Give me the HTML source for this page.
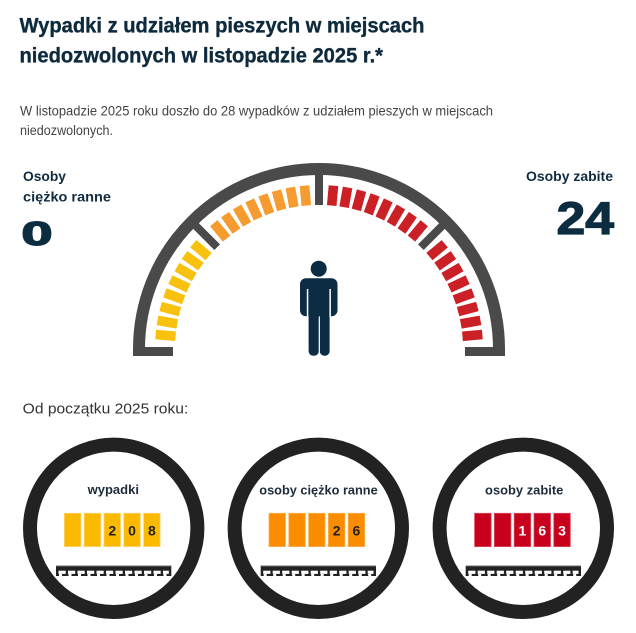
<!DOCTYPE html>
<html><head><meta charset="utf-8"><style>
html,body{margin:0;padding:0;background:#fff;}
svg{display:block;}
text{font-family:"Liberation Sans",sans-serif;}
</style></head><body>
<svg width="636" height="633" viewBox="0 0 636 633" xmlns="http://www.w3.org/2000/svg">
<rect width="636" height="633" fill="#fff"/>
<!-- Title -->
<text x="19.5" y="32.5" font-size="21" font-weight="bold" fill="#0e2a3d" stroke="#0e2a3d" stroke-width="0.35" textLength="405" lengthAdjust="spacingAndGlyphs">Wypadki z udziałem pieszych w miejscach</text>
<text x="19.5" y="62.5" font-size="21" font-weight="bold" fill="#0e2a3d" stroke="#0e2a3d" stroke-width="0.35" textLength="363.5" lengthAdjust="spacingAndGlyphs">niedozwolonych w listopadzie 2025 r.*</text>
<!-- Description -->
<text x="20" y="115.5" font-size="14" fill="#444" textLength="473" lengthAdjust="spacingAndGlyphs">W listopadzie 2025 roku doszło do 28 wypadków z udziałem pieszych w miejscach</text>
<text x="20" y="135" font-size="14" fill="#444" textLength="93" lengthAdjust="spacingAndGlyphs">niedozwolonych.</text>
<!-- Side labels -->
<text x="23" y="181" font-size="14" font-weight="bold" fill="#102b3f" textLength="43" lengthAdjust="spacingAndGlyphs">Osoby</text>
<text x="23" y="201.5" font-size="14" font-weight="bold" fill="#102b3f" textLength="88" lengthAdjust="spacingAndGlyphs">ciężko ranne</text>
<text x="21.5" y="245" font-size="33" font-weight="bold" fill="#0c2c40" stroke="#0c2c40" stroke-width="1.4" textLength="31" lengthAdjust="spacingAndGlyphs">0</text>
<text x="526" y="181" font-size="14" font-weight="bold" fill="#102b3f" textLength="87" lengthAdjust="spacingAndGlyphs">Osoby zabite</text>
<text x="556.5" y="234" font-size="45" font-weight="bold" fill="#0c2c40" stroke="#0c2c40" stroke-width="1.2" textLength="57.5" lengthAdjust="spacingAndGlyphs">24</text>

<!-- Gauge -->
<path d="M 139 349 A 180 180 0 0 1 499 349" fill="none" stroke="#4a4a4a" stroke-width="12"/>
<rect x="133" y="347" width="40" height="9" fill="#4a4a4a"/>
<rect x="465" y="347" width="40" height="9" fill="#4a4a4a"/>
<g transform="translate(319,349)">
  <g fill="#4a4a4a">
    <rect x="144" y="-4" width="32" height="8" transform="rotate(-45)"/>
    <rect x="144" y="-4" width="32" height="8" transform="rotate(-90)"/>
    <rect x="144" y="-4" width="32" height="8" transform="rotate(-135)"/>
  </g>
  <g fill="#f8c10d">
    <rect x="144" y="-4.8" width="20" height="9.6" transform="rotate(-174.925)"/>
    <rect x="144" y="-4.8" width="20" height="9.6" transform="rotate(-169.945)"/>
    <rect x="144" y="-4.8" width="20" height="9.6" transform="rotate(-164.965)"/>
    <rect x="144" y="-4.8" width="20" height="9.6" transform="rotate(-159.985)"/>
    <rect x="144" y="-4.8" width="20" height="9.6" transform="rotate(-155.005)"/>
    <rect x="144" y="-4.8" width="20" height="9.6" transform="rotate(-150.025)"/>
    <rect x="144" y="-4.8" width="20" height="9.6" transform="rotate(-145.045)"/>
    <rect x="144" y="-4.8" width="20" height="9.6" transform="rotate(-140.065)"/>
  </g>
  <g fill="#f59b2f">
    <rect x="144" y="-4.8" width="20" height="9.6" transform="rotate(-129.925)"/>
    <rect x="144" y="-4.8" width="20" height="9.6" transform="rotate(-124.945)"/>
    <rect x="144" y="-4.8" width="20" height="9.6" transform="rotate(-119.965)"/>
    <rect x="144" y="-4.8" width="20" height="9.6" transform="rotate(-114.985)"/>
    <rect x="144" y="-4.8" width="20" height="9.6" transform="rotate(-110.005)"/>
    <rect x="144" y="-4.8" width="20" height="9.6" transform="rotate(-105.025)"/>
    <rect x="144" y="-4.8" width="20" height="9.6" transform="rotate(-100.045)"/>
    <rect x="144" y="-4.8" width="20" height="9.6" transform="rotate(-95.065)"/>
  </g>
  <g fill="#cc2027">
    <rect x="144" y="-4.8" width="20" height="9.6" transform="rotate(-84.935)"/>
    <rect x="144" y="-4.8" width="20" height="9.6" transform="rotate(-79.955)"/>
    <rect x="144" y="-4.8" width="20" height="9.6" transform="rotate(-74.975)"/>
    <rect x="144" y="-4.8" width="20" height="9.6" transform="rotate(-69.995)"/>
    <rect x="144" y="-4.8" width="20" height="9.6" transform="rotate(-65.015)"/>
    <rect x="144" y="-4.8" width="20" height="9.6" transform="rotate(-60.035)"/>
    <rect x="144" y="-4.8" width="20" height="9.6" transform="rotate(-55.055)"/>
    <rect x="144" y="-4.8" width="20" height="9.6" transform="rotate(-50.075)"/>
    <rect x="144" y="-4.8" width="20" height="9.6" transform="rotate(-39.925)"/>
    <rect x="144" y="-4.8" width="20" height="9.6" transform="rotate(-34.945)"/>
    <rect x="144" y="-4.8" width="20" height="9.6" transform="rotate(-29.965)"/>
    <rect x="144" y="-4.8" width="20" height="9.6" transform="rotate(-24.985)"/>
    <rect x="144" y="-4.8" width="20" height="9.6" transform="rotate(-20.005)"/>
    <rect x="144" y="-4.8" width="20" height="9.6" transform="rotate(-15.025)"/>
    <rect x="144" y="-4.8" width="20" height="9.6" transform="rotate(-10.045)"/>
    <rect x="144" y="-4.8" width="20" height="9.6" transform="rotate(-5.065)"/>
  </g>
</g>
<!-- Person -->
<g fill="#0b2c42">
  <circle cx="318.7" cy="268.7" r="8"/>
  <rect x="300" y="278.3" width="37.5" height="38" rx="6"/>
  <rect x="308.6" y="300" width="10.2" height="55.7" rx="4.5"/>
  <rect x="319.8" y="300" width="9.8" height="55.7" rx="4.5"/>
</g>
<rect x="306.8" y="289" width="1.5" height="28" fill="#fff"/>
<rect x="329.4" y="289" width="1.5" height="28" fill="#fff"/>
<rect x="318.8" y="318" width="1" height="38" fill="#fff"/>

<!-- Od początku -->
<text x="22.7" y="413.3" font-size="14.5" fill="#333" textLength="165.6" lengthAdjust="spacingAndGlyphs">Od początku 2025 roku:</text>

<!-- Circle 1 -->
<circle cx="113.7" cy="528.3" r="83.7" fill="none" stroke="#222" stroke-width="14"/>
<text x="113.3" y="494" font-size="13" font-weight="bold" fill="#1e2b3a" text-anchor="middle">wypadki</text>
<g fill="#fbb900" stroke="#fdd36a" stroke-width="0.8">
  <rect x="64.4" y="513.3" width="16.5" height="33.3"/>
  <rect x="84.2" y="513.3" width="16.5" height="33.3"/>
  <rect x="104" y="513.3" width="16.5" height="33.3"/>
  <rect x="123.8" y="513.3" width="16.5" height="33.3"/>
  <rect x="143.6" y="513.3" width="16.5" height="33.3"/>
</g>
<g font-size="14" font-weight="bold" fill="#222" text-anchor="middle">
  <text x="112.25" y="535.5">2</text>
  <text x="132.05" y="535.5">0</text>
  <text x="151.85" y="535.5">8</text>
</g>

<!-- Circle 2 -->
<circle cx="318.3" cy="528.3" r="83.7" fill="none" stroke="#222" stroke-width="14"/>
<text x="318.5" y="494.3" font-size="13" font-weight="bold" fill="#1e2b3a" text-anchor="middle" textLength="118.4" lengthAdjust="spacingAndGlyphs">osoby ciężko ranne</text>
<g fill="#fa8c00" stroke="#fcb050" stroke-width="0.8">
  <rect x="269" y="513.3" width="16.5" height="33.3"/>
  <rect x="288.8" y="513.3" width="16.5" height="33.3"/>
  <rect x="308.6" y="513.3" width="16.5" height="33.3"/>
  <rect x="328.4" y="513.3" width="16.5" height="33.3"/>
  <rect x="348.2" y="513.3" width="16.5" height="33.3"/>
</g>
<g font-size="14" font-weight="bold" fill="#222" text-anchor="middle">
  <text x="336.65" y="535.5">2</text>
  <text x="356.45" y="535.5">6</text>
</g>

<!-- Circle 3 -->
<circle cx="523.3" cy="528.3" r="83.7" fill="none" stroke="#222" stroke-width="14"/>
<text x="524.2" y="494.3" font-size="13" font-weight="bold" fill="#1e2b3a" text-anchor="middle" textLength="78.3" lengthAdjust="spacingAndGlyphs">osoby zabite</text>
<g fill="#c8001e" stroke="#d84a5a" stroke-width="0.8">
  <rect x="474.6" y="513.3" width="16.5" height="33.3"/>
  <rect x="494.4" y="513.3" width="16.5" height="33.3"/>
  <rect x="514.2" y="513.3" width="16.5" height="33.3"/>
  <rect x="534" y="513.3" width="16.5" height="33.3"/>
  <rect x="553.8" y="513.3" width="16.5" height="33.3"/>
</g>
<g font-size="14" font-weight="bold" fill="#fff" text-anchor="middle">
  <text x="522.45" y="535.5">1</text>
  <text x="542.25" y="535.5">6</text>
  <text x="562.05" y="535.5">3</text>
</g>

<!-- Rulers -->
<defs>
  <g id="ruler">
    <rect x="0" y="0" width="115.3" height="10.3" fill="#222"/>
    <rect x="0" y="0" width="115.3" height="0.8" fill="#666"/>
    <g fill="#fff">
      <rect x="2.5" y="5" width="7.2" height="3.2"/>
      <rect x="12" y="5" width="7.2" height="3.2"/>
      <rect x="21.5" y="5" width="7.2" height="3.2"/>
      <rect x="31" y="5" width="7.2" height="3.2"/>
      <rect x="40.5" y="5" width="7.2" height="3.2"/>
      <rect x="50" y="5" width="7.2" height="3.2"/>
      <rect x="59.5" y="5" width="7.2" height="3.2"/>
      <rect x="69" y="5" width="7.2" height="3.2"/>
      <rect x="78.5" y="5" width="7.2" height="3.2"/>
      <rect x="88" y="5" width="7.2" height="3.2"/>
      <rect x="97.5" y="5" width="7.2" height="3.2"/>
      <rect x="107" y="5" width="5.8" height="3.2"/>
    </g>
    <g fill="#fff">
      <rect x="3" y="8.2" width="3" height="2.1"/>
      <rect x="12.5" y="8.2" width="3" height="2.1"/>
      <rect x="22" y="8.2" width="3" height="2.1"/>
      <rect x="31.5" y="8.2" width="3" height="2.1"/>
      <rect x="41" y="8.2" width="3" height="2.1"/>
      <rect x="50.5" y="8.2" width="3" height="2.1"/>
      <rect x="60" y="8.2" width="3" height="2.1"/>
      <rect x="69.5" y="8.2" width="3" height="2.1"/>
      <rect x="79" y="8.2" width="3" height="2.1"/>
      <rect x="88.5" y="8.2" width="3" height="2.1"/>
      <rect x="98" y="8.2" width="3" height="2.1"/>
      <rect x="107.5" y="8.2" width="3" height="2.1"/>
    </g>
  </g>
</defs>
<use href="#ruler" x="56" y="565.7"/>
<use href="#ruler" x="260.7" y="565.7"/>
<use href="#ruler" x="465.7" y="565.7"/>
</svg>
</body></html>
